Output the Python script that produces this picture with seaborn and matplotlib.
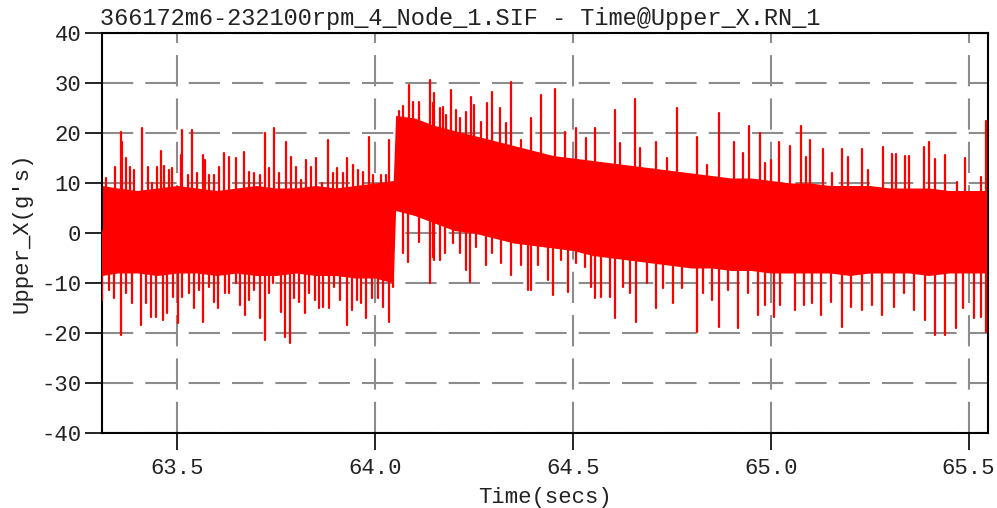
import numpy as np
import pandas as pd
import matplotlib
matplotlib.use("Agg")
import matplotlib.pyplot as plt
import seaborn as sns

# ---------------- data ----------------
title = "366172m6-232100rpm_4_Node_1.SIF - Time@Upper_X.RN_1"
x_label = "Time(secs)"
y_label = "Upper_X(g's)"
x_ticks = [63.5, 64.0, 64.5, 65.0, 65.5]
x_tick_labels = ["63.5", "64.0", "64.5", "65.0", "65.5"]
y_ticks = [40, 30, 20, 10, 0, -10, -20, -30, -40]
y_tick_labels = ["40", "30", "20", "10", "0", "-10", "-20", "-30", "-40"]
x_range = [63.310, 65.549]
y_range = [-40, 40]

# dense core band of the vibration signal (upper / lower edge)
env_t = [63.310, 63.35, 63.40, 63.45, 63.50, 63.55, 63.60, 63.65, 63.70, 63.75,
         63.80, 63.85, 63.90, 63.95, 64.00, 64.046, 64.052, 64.10, 64.15, 64.20,
         64.25, 64.30, 64.35, 64.40, 64.45, 64.50, 64.55, 64.60, 64.65, 64.70,
         64.75, 64.80, 64.85, 64.90, 64.95, 65.00, 65.05, 65.10, 65.15, 65.20,
         65.25, 65.30, 65.35, 65.40, 65.45, 65.50, 65.549]
env_hi = [9.5, 9, 8.5, 9, 9.5, 9, 8.5, 9, 9.5, 9,
          9, 9.5, 9, 9.5, 10, 10.5, 23.5, 23, 21.5, 20.5,
          19.5, 18.5, 17.5, 16.5, 15.5, 15, 14.5, 14, 13.5, 13,
          12.5, 12, 11.5, 11, 11, 10.5, 10, 10, 9.5, 9.5,
          9.5, 9, 9, 9, 8.5, 8.5, 8.5]
env_lo = [-8.5, -8, -8, -8.5, -8, -8, -8.5, -8, -8.5, -8.5,
          -8, -8.5, -8.5, -9, -9, -10, 4.5, 3.5, 2, 0.5,
          0, -1, -2, -2.5, -3, -3.5, -4.5, -5, -5.5, -6,
          -6.5, -7, -7, -7.5, -7.5, -8, -8, -8, -8, -8.5,
          -8, -8, -8, -8.5, -8, -8, -8]

# individual positive peaks
up_t = [63.319, 63.344, 63.357, 63.361, 63.370, 63.381, 63.391, 63.412, 63.425, 63.437,
        63.450, 63.460, 63.467, 63.479, 63.488, 63.509, 63.513, 63.527, 63.538, 63.551,
        63.564, 63.570, 63.581, 63.593, 63.606, 63.618, 63.631, 63.648, 63.669, 63.682,
        63.694, 63.710, 63.722, 63.732, 63.745, 63.758, 63.775, 63.787, 63.800, 63.813,
        63.825, 63.838, 63.852, 63.866, 63.880, 63.893, 63.903, 63.918, 63.928, 63.945,
        63.956, 63.969, 63.984, 63.994, 64.015, 64.028, 64.036, 64.060, 64.070, 64.087,
        64.095, 64.111, 64.138, 64.146, 64.150, 64.165, 64.172, 64.180, 64.192, 64.205,
        64.214, 64.229, 64.243, 64.251, 64.268, 64.284, 64.296, 64.315, 64.330, 64.344,
        64.370, 64.395, 64.420, 64.456, 64.479, 64.509, 64.534, 64.557, 64.606, 64.620,
        64.656, 64.669, 64.711, 64.737, 64.764, 64.813, 64.838, 64.870, 64.906, 64.931,
        64.946, 64.973, 64.986, 65.001, 65.021, 65.049, 65.077, 65.089, 65.100, 65.131,
        65.154, 65.180, 65.195, 65.230, 65.247, 65.283, 65.306, 65.316, 65.338, 65.349,
        65.388, 65.399, 65.416, 65.441, 65.471, 65.490, 65.532, 65.545]
up_v = [11, 13.3, 20.3, 18.3, 15, 13.3, 12.7, 21, 13.3, 10,
        13.3, 16.5, 13.5, 12.7, 13, 15.7, 20.7, 11.7, 20.7, 12,
        15.7, 14.7, 11.7, 11.7, 13.3, 16.1, 15.3, 15, 16.3, 12.3,
        12, 11.7, 20.1, 13, 21, 12, 18.3, 15.3, 13.3, 10.7,
        14.7, 13.3, 15.1, 10, 18.7, 12, 13, 12, 15.1, 13.7,
        12.7, 12.3, 19.3, 11.7, 11.7, 11.7, 18.7, 24.5, 25.5, 29.7,
        26.3, 26.3, 30.7, 26, 28, 25, 25.3, 23.7, 28.7, 24.7,
        23, 24.3, 27.2, 25.7, 22.3, 26, 28.2, 25, 22, 30.3,
        18.7, 23, 27.7, 28.9, 20.3, 21, 19, 21, 24.7, 18,
        26.8, 17, 18.3, 15, 25, 19.3, 13.7, 24, 18.3, 16,
        21.5, 20, 14, 14.7, 18.3, 17.5, 21.5, 15.3, 18.7, 16.8,
        12, 16.8, 15.3, 16.8, 12.7, 17.2, 15.8, 15.8, 15.5, 15.5,
        17.2, 18.3, 14.8, 15.7, 10.3, 15, 11.2, 22.5]

# individual negative peaks
dn_t = [63.311, 63.327, 63.340, 63.357, 63.370, 63.387, 63.408, 63.420, 63.433, 63.446,
        63.463, 63.475, 63.490, 63.502, 63.511, 63.530, 63.543, 63.555, 63.566, 63.581,
        63.593, 63.603, 63.620, 63.631, 63.648, 63.659, 63.671, 63.682, 63.693, 63.710,
        63.722, 63.732, 63.741, 63.762, 63.773, 63.785, 63.796, 63.808, 63.824, 63.834,
        63.849, 63.859, 63.869, 63.884, 63.897, 63.911, 63.928, 63.942, 63.954, 63.965,
        63.977, 63.992, 64.007, 64.019, 64.035, 64.045, 64.070, 64.083, 64.112, 64.138,
        64.146, 64.149, 64.163, 64.177, 64.197, 64.214, 64.230, 64.241, 64.256, 64.281,
        64.295, 64.319, 64.344, 64.370, 64.387, 64.395, 64.412, 64.437, 64.450, 64.471,
        64.488, 64.509, 64.530, 64.545, 64.557, 64.572, 64.593, 64.606, 64.627, 64.644,
        64.659, 64.686, 64.711, 64.728, 64.752, 64.775, 64.813, 64.830, 64.851, 64.868,
        64.891, 64.918, 64.943, 64.969, 64.986, 65.009, 65.024, 65.062, 65.083, 65.104,
        65.127, 65.153, 65.180, 65.203, 65.230, 65.256, 65.281, 65.311, 65.336, 65.361,
        65.389, 65.414, 65.441, 65.467, 65.486, 65.514, 65.532, 65.544]
dn_v = [-13.3, -11.3, -13, -20.3, -12, -14, -18.3, -14, -16.7, -16.7,
        -17.3, -16, -12.7, -18, -12.7, -12, -15, -11.3, -17.7, -10.7,
        -13.7, -15, -12, -12, -10, -14.3, -16.3, -13.3, -11.3, -17,
        -21.3, -12, -10, -15.7, -20.7, -22, -13, -13.7, -16, -12,
        -13.3, -15, -14.7, -15, -10.7, -13.3, -18.3, -15.3, -13.3, -14,
        -17, -13, -13, -14.7, -17.7, -10.7, -4, -5.7, -1.7, -10,
        -4.7, -5.3, -5.3, -4, -2, -4, -7.3, -9.7, -2.7, -6.3,
        -4, -6, -8.3, -6.3, -11.3, -11.3, -6.3, -9.3, -12.3, -5.3,
        -11.7, -6, -6.7, -10.7, -13, -12.7, -12.7, -17, -10.7, -12,
        -17.7, -10, -15, -11, -14, -11, -19.7, -12, -13.3, -18.7,
        -11.3, -19, -12, -16.3, -14.3, -16.7, -14.3, -15.3, -14.3, -14,
        -16.3, -13.7, -18.7, -14.7, -15.3, -14.3, -16.3, -14.7, -12, -15.3,
        -17.3, -20.3, -20.3, -19, -15, -17, -16.7, -19.7]

# ---------------- style ----------------
sns.set_style("white")
plt.rcParams['font.family'] = ['Liberation Mono', 'DejaVu Sans Mono']
plt.rcParams['axes.unicode_minus'] = False

W, H = 997, 508
fig = plt.figure(figsize=(W / 100, H / 100), dpi=100)
ax = fig.add_axes([102 / W, 1 - 433 / H, 886 / W, 400 / H])

red = "#ff0000"

# core band
env_t_a = np.asarray(env_t)
env_hi_a = np.asarray(env_hi)
env_lo_a = np.asarray(env_lo)
ax.fill_between(env_t_a, env_lo_a, env_hi_a, color=red, lw=0, zorder=2)

# peaks as vertical strokes starting from the band centre
spk_t = np.concatenate([up_t, dn_t])
spk_v = np.concatenate([up_v, dn_v])
base = np.interp(spk_t, env_t_a, (env_hi_a + env_lo_a) / 2)
n = len(spk_t)
df = pd.DataFrame({
    "t": np.concatenate([spk_t, spk_t]),
    "v": np.concatenate([base, spk_v]),
    "id": np.concatenate([np.arange(n), np.arange(n)]),
})
sns.lineplot(data=df, x="t", y="v", units="id", estimator=None, sort=False,
             color=red, lw=1.6, ax=ax, zorder=3, legend=False)

# ---------------- axes ----------------
ax.set_xlim(*x_range)
ax.set_ylim(*y_range)
ax.set_xticks(x_ticks)
ax.set_xticklabels(x_tick_labels)
ax.set_yticks(y_ticks)
ax.set_yticklabels(y_tick_labels)
ax.set_axisbelow(True)
ax.grid(True, color="#8c8c8c", lw=1.5, ls=(0, (15, 5.8)))
for s in ax.spines.values():
    s.set_color("black")
    s.set_linewidth(1.5)
    s.set_visible(True)
ax.tick_params(axis="both", direction="out", length=12, width=1.2, color="black",
               labelsize=16, labelcolor="#222222", left=True, bottom=True)
ax.tick_params(axis="y", pad=3)
ax.tick_params(axis="x", pad=6)

ax.set_xlabel(x_label, fontsize=16, color="#222222")
ax.set_ylabel(y_label, fontsize=16, color="#222222")
ax.xaxis.set_label_coords(0.5, -0.135)
ax.yaxis.set_label_coords(-0.079, 0.5)

fig.text(100 / W, 1 - 25 / H, title, fontsize=17, color="#222222",
         ha="left", va="baseline")

fig.savefig("out.png", dpi=100)
